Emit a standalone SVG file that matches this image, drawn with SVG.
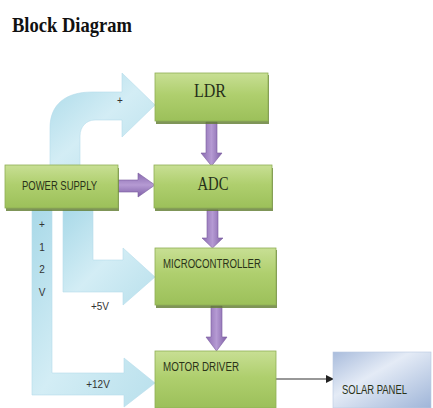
<svg xmlns="http://www.w3.org/2000/svg" width="433" height="408" viewBox="0 0 433 408">
<defs>
<linearGradient id="green" x1="0" y1="0" x2="0" y2="1">
<stop offset="0" stop-color="#c8df94"/>
<stop offset="0.45" stop-color="#afcf6e"/>
<stop offset="1" stop-color="#9cc05a"/>
</linearGradient>
<linearGradient id="purpleV" x1="0" y1="0" x2="1" y2="0">
<stop offset="0" stop-color="#8a6bb0"/>
<stop offset="0.5" stop-color="#b59ad3"/>
<stop offset="1" stop-color="#7e5fa6"/>
</linearGradient>
<linearGradient id="purpleH" x1="0" y1="0" x2="0" y2="1">
<stop offset="0" stop-color="#8a6bb0"/>
<stop offset="0.5" stop-color="#b59ad3"/>
<stop offset="1" stop-color="#7e5fa6"/>
</linearGradient>
<linearGradient id="blue" x1="0" y1="0" x2="1" y2="1">
<stop offset="0" stop-color="#a9d9e8"/>
<stop offset="0.5" stop-color="#d3edf5"/>
<stop offset="1" stop-color="#b9e0ec"/>
</linearGradient>
<linearGradient id="solar" x1="0" y1="0" x2="1" y2="1">
<stop offset="0" stop-color="#a9bcdc"/>
<stop offset="0.4" stop-color="#e4ebf6"/>
<stop offset="1" stop-color="#9fb5d8"/>
</linearGradient>
<marker id="ah" markerWidth="8" markerHeight="8" refX="7" refY="4" orient="auto" markerUnits="userSpaceOnUse">
<path d="M0,0 L8,4 L0,8 Z" fill="#222"/>
</marker>
<style>
.box{fill:url(#green);stroke:#8fae55;stroke-width:0.8}
.shadow{fill:#5f7a2e;opacity:0.8}
.serif{font-family:"Liberation Serif","Times New Roman",serif;fill:#26301a}
.sans{font-family:"Liberation Sans",Arial,sans-serif;fill:#2a3318;font-size:12px}
.small{font-family:"Liberation Sans",Arial,sans-serif;fill:#333;font-size:10px}
.parrow{stroke:#7a5ca0;stroke-width:0.6}
.barrow{fill:url(#blue);stroke:#b5dceb;stroke-width:0.6}
</style>
</defs>
<rect width="433" height="408" fill="#ffffff"/>
<text x="12" y="32" font-family="Liberation Serif,'Times New Roman',serif" font-weight="bold" font-size="22" fill="#111" textLength="120" lengthAdjust="spacingAndGlyphs">Block Diagram</text>

<g id="connectors">
<path class="barrow" d="M50,166 L50,128 C50,104 66,92 92,92 L122,92 L122,73 L155,105 L122,137 L122,120 L95,120 C86,120 80,127 80,136 L80,166 Z"/>
<path class="barrow" d="M32,210 L32,395 L124,395 L124,407 L155,383 L124,358 L124,373 L52,373 L52,210 Z"/>
<path class="barrow" d="M63,210 L63,292 L123,292 L123,305 L155,277 L123,248 L123,260 L93,260 L93,210 Z"/>
<path class="parrow" fill="url(#purpleH)" d="M118,180 L138,180 L138,173 L155,185 L138,197 L138,192 L118,192 Z"/>
<path class="parrow" fill="url(#purpleV)" d="M206,122 L217,122 L217,153 L222,153 L211.5,166 L201,153 L206,153 Z"/>
<path class="parrow" fill="url(#purpleV)" d="M207,210 L218,210 L218,238 L223,238 L212.5,248 L202,238 L207,238 Z"/>
<path class="parrow" fill="url(#purpleV)" d="M211,306 L222,306 L222,337 L227,337 L216.5,351 L206,337 L211,337 Z"/>
<line x1="276" y1="379" x2="333" y2="379" stroke="#333" stroke-width="1.2" marker-end="url(#ah)"/>
<text class="small" x="120" y="104" text-anchor="middle">+</text>
<text class="small" x="42" y="228" text-anchor="middle">+</text>
<text class="small" x="42" y="251" text-anchor="middle">1</text>
<text class="small" x="42" y="273" text-anchor="middle">2</text>
<text class="small" x="42" y="296" text-anchor="middle">V</text>
<text class="small" x="100" y="310" text-anchor="middle" font-size="7" fill="#777">+5V</text>
<text class="small" x="98" y="388" text-anchor="middle" font-size="7" fill="#555">+12V</text>
</g>

<g id="ldr">
<rect class="shadow" x="156" y="75" width="113" height="49"/>
<rect class="box" x="155" y="73" width="113" height="48"/>
<text class="serif" x="210" y="97" font-size="18" text-anchor="middle" textLength="32" lengthAdjust="spacingAndGlyphs">LDR</text>
</g>
<g id="adc">
<rect class="shadow" x="155" y="168" width="118" height="43"/>
<rect class="box" x="154" y="165" width="118" height="43"/>
<text class="serif" x="213" y="190" font-size="18" text-anchor="middle" textLength="31" lengthAdjust="spacingAndGlyphs">ADC</text>
</g>
<g id="power-supply">
<rect class="shadow" x="6" y="168" width="113" height="43"/>
<rect class="box" x="5" y="165" width="113" height="43"/>
<text class="sans" x="22" y="190" textLength="75" lengthAdjust="spacingAndGlyphs">POWER SUPPLY</text>
</g>
<g id="microcontroller">
<rect class="shadow" x="156" y="250" width="121" height="58"/>
<rect class="box" x="155" y="248" width="121" height="57"/>
<text class="sans" x="163" y="268" textLength="98" lengthAdjust="spacingAndGlyphs">MICROCONTROLLER</text>
</g>
<g id="motor-driver">
<rect class="box" x="155" y="351" width="121" height="57"/>
<text class="sans" x="163" y="371" textLength="76" lengthAdjust="spacingAndGlyphs">MOTOR DRIVER</text>
</g>
<g id="solar-panel">
<rect x="333" y="352" width="98" height="56" fill="url(#solar)" stroke="#b8c8e2" stroke-width="0.6"/>
<text class="sans" x="342" y="394" font-size="13" fill="#454a55" textLength="65" lengthAdjust="spacingAndGlyphs">SOLAR PANEL</text>
</g>
</svg>
